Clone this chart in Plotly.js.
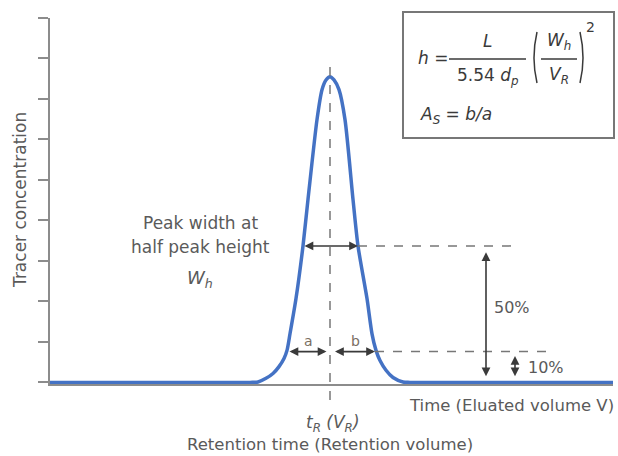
<!DOCTYPE html>
<html>
<head>
<meta charset="utf-8">
<script src="https://cdn.plot.ly/plotly-3.0.1.min.js"></script>
<style>html,body{margin:0;padding:0;background:#fff;}#chart{width:618px;height:456px;}</style>
</head>
<body>
<div id="chart"></div>
<script>
// ---- data (x: time units, y: concentration units) ----
const curveX = [0, 20, 20.8, 21.6, 22.3, 22.9, 23.4, 23.7, 24.0, 24.6, 25.3, 25.8, 26.7, 27.2, 27.6, 28.0, 28.4, 28.9, 29.5, 30.3, 30.8, 31.7, 32.2, 32.6, 33.0, 33.6, 34.3, 35.3, 36.0, 56.3];
const curveY = [0, 0, 0.01, 0.10, 0.22, 0.39, 0.59, 0.79, 1.20, 2.07, 3.37, 4.52, 6.49, 7.23, 7.47, 7.55, 7.47, 7.23, 6.49, 4.52, 3.37, 2.07, 1.20, 0.79, 0.54, 0.30, 0.12, 0.01, 0, 0];
const retentionTime = 28.0;
const halfLevel = 3.37;          // level of the half-height width marker
const halfWidthEnds = [25.3, 30.8];
const tenLevel = 0.76;           // 10% level
const tenWidthEnds = [23.8, 32.5];
const yTicks = [0, 1, 2, 3, 4, 5, 6, 7, 8, 9];

// ---- layout helpers (pixel -> paper) ----
const L = 50, R = 5, T = 18, B = 72, W = 618, H = 456;
const PW = W - L - R, PH = H - T - B;
const px = v => (v - L) / PW;
const py = v => (H - B - v) / PH;

const grey = '#8c8c8c';
const txt = '#5a5a5a';
const dark = '#3a3a3a';
const fam = '"DejaVu Sans", "Noto Sans", sans-serif';

const trace = {
  x: curveX, y: curveY, type: 'scatter', mode: 'lines',
  line: {color: '#4472c4', width: 3.5, shape: 'spline', smoothing: 0.7},
  hoverinfo: 'skip'
};

const shapes = [
  // vertical dashed line at retention time
  {type: 'line', xref: 'x', yref: 'paper', x0: retentionTime, x1: retentionTime, y0: py(400), y1: py(62),
   line: {color: '#777', width: 1.5, dash: 'dash'}},
  // half-height dashed extension
  {type: 'line', xref: 'x', yref: 'y', x0: halfWidthEnds[1], x1: 47.0, y0: halfLevel, y1: halfLevel,
   line: {color: '#777', width: 1.5, dash: 'dash'}},
  // 10% dashed extension
  {type: 'line', xref: 'x', yref: 'y', x0: tenWidthEnds[1], x1: 49.7, y0: tenLevel, y1: tenLevel,
   line: {color: '#777', width: 1.5, dash: 'dash'}},
  // formula box
  {type: 'rect', xref: 'paper', yref: 'paper', x0: px(403), x1: px(614), y0: py(12), y1: py(138),
   line: {color: '#777', width: 2}, fillcolor: 'rgba(0,0,0,0)'},
  // fraction bars
  {type: 'line', xref: 'paper', yref: 'paper', x0: px(449), x1: px(526), y0: py(59), y1: py(59), line: {color: dark, width: 1.3}},
  {type: 'line', xref: 'paper', yref: 'paper', x0: px(541), x1: px(577), y0: py(59), y1: py(59), line: {color: dark, width: 1.3}},
  // parentheses
  {type: 'path', xref: 'paper', yref: 'paper',
   path: `M ${px(537)} ${py(32)} Q ${px(531)} ${py(58)} ${px(537)} ${py(83)}`, line: {color: dark, width: 1.5}},
  {type: 'path', xref: 'paper', yref: 'paper',
   path: `M ${px(580)} ${py(32)} Q ${px(586)} ${py(58)} ${px(580)} ${py(83)}`, line: {color: dark, width: 1.5}}
];

function arrow(x0, y0, x1, y1) {
  return {x: x1, y: y1, ax: x0, ay: y0, xref: 'x', yref: 'y', axref: 'x', ayref: 'y',
    text: '', showarrow: true, arrowhead: 2, arrowside: 'end+start', arrowsize: 1.1,
    arrowwidth: 1.6, arrowcolor: dark, standoff: 0, startstandoff: 0};
}
const f = (size, color) => ({family: fam, size: size, color: color});
function label(x, y, text, opt) {
  return Object.assign({x: px(x), y: py(y), xref: 'paper', yref: 'paper', text: text, showarrow: false,
    xanchor: 'center', yanchor: 'middle', font: f(17, txt)}, opt || {});
}

const annotations = [
  arrow(halfWidthEnds[0], halfLevel, halfWidthEnds[1], halfLevel),
  arrow(tenWidthEnds[0], tenLevel, retentionTime - 0.35, tenLevel),
  arrow(retentionTime + 0.35, tenLevel, tenWidthEnds[1], tenLevel),
  arrow(43.6, halfLevel - 0.12, 43.6, 0.15),
  arrow(46.5, tenLevel - 0.07, 46.5, 0.15),
  label(20, 200, 'Tracer concentration', {textangle: -90, font: f(17, txt)}),
  label(200, 223, 'Peak width at'),
  label(200, 247, 'half peak height'),
  label(200, 279, '<i>W<sub>h</sub></i>', {font: f(18, txt)}),
  label(308, 341, 'a', {font: f(14, '#7a6e62')}),
  label(355, 341, 'b', {font: f(14, '#7a6e62')}),
  label(512, 307, '50%', {font: f(16, txt)}),
  label(546, 367, '10%', {font: f(16, txt)}),
  label(511, 405, 'Time (Eluated volume V)', {font: f(16.5, txt)}),
  label(333, 424, '<i>t<sub>R</sub> (V<sub>R</sub>)</i>', {font: f(17, txt)}),
  label(330, 444, 'Retention time (Retention volume)', {font: f(16.5, txt)}),
  // formula
  label(433, 58, '<i>h</i> =', {font: f(17, dark)}),
  label(487, 41, '<i>L</i>', {font: f(17, dark)}),
  label(488, 77, '5.54 <i>d<sub>p</sub></i>', {font: f(17, dark)}),
  label(559, 42, '<i>W<sub>h</sub></i>', {font: f(17, dark)}),
  label(559, 76, '<i>V<sub>R</sub></i>', {font: f(17, dark)}),
  label(590, 27, '2', {font: f(14, dark)}),
  label(456, 116, '<i>A<sub>S</sub></i> = <i>b/a</i>', {font: f(17, dark)})
];

const layout = {
  width: W, height: H,
  margin: {l: L, r: R, t: T, b: B, pad: 0},
  paper_bgcolor: '#fff', plot_bgcolor: '#fff',
  showlegend: false,
  xaxis: {range: [0, 56.3], showline: true, linecolor: grey, linewidth: 2, ticks: '',
    showticklabels: false, showgrid: false, zeroline: false, fixedrange: true},
  yaxis: {range: [-0.04, 9], tickmode: 'array', tickvals: yTicks, ticks: 'outside', ticklen: 10, tickwidth: 2,
    tickcolor: grey, showline: true, linecolor: grey, linewidth: 2, showticklabels: false,
    showgrid: false, zeroline: false, fixedrange: true},
  shapes: shapes,
  annotations: annotations
};

Plotly.newPlot('chart', [trace], layout, {displayModeBar: false, staticPlot: true});
</script>
</body>
</html>
